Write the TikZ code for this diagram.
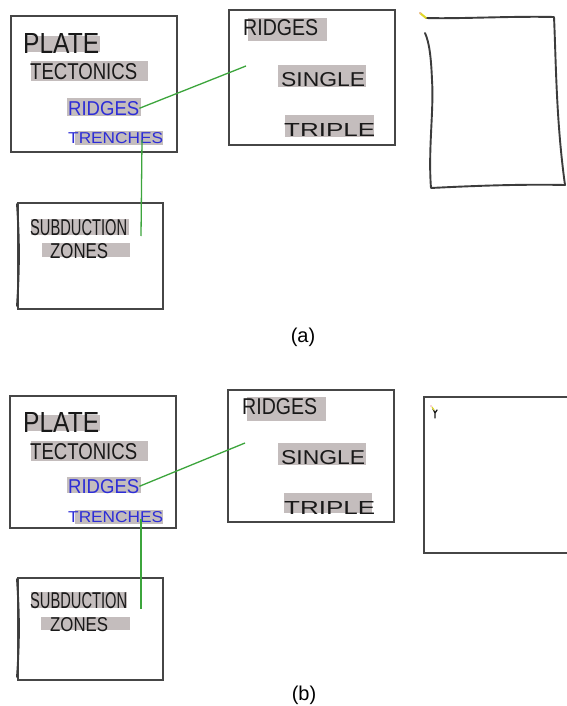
\documentclass[tikz,border=0pt]{standalone}
\usepackage{fontspec}
\setsansfont{Liberation Sans}
\usepackage{graphicx}
\definecolor{boxgray}{RGB}{70,70,70}
\definecolor{hlgray}{RGB}{196,189,189}
\definecolor{inkblue}{RGB}{45,45,215}
\definecolor{inkblack}{RGB}{25,25,25}
\definecolor{lineGreen}{RGB}{60,165,60}
\definecolor{markyellow}{RGB}{225,215,40}
\definecolor{markpink}{RGB}{240,170,180}
\newcommand{\handtxt}[3]{\resizebox{#1pt}{#2pt}{\sffamily #3}}
\tikzset{
  panelbox/.style={draw=boxgray, line width=1.6pt, inner sep=0pt, anchor=north west},
  hl/.style={fill=hlgray, draw=none, inner sep=0pt, anchor=north west},
  txt/.style={inner sep=0pt, anchor=north west, text=inkblack},
  bluetxt/.style={txt, text=inkblue},
  link/.style={draw=lineGreen, line width=1.3pt},
  hand/.style={draw=inkblack!85, line width=1.9pt, line cap=round, line join=round},
  caption/.style={inner sep=0pt, font=\fontsize{20}{24}\selectfont\sffamily}
}
\begin{document}
\begin{tikzpicture}[x=1pt,y=-1pt]
\useasboundingbox[fill=white] (0,0) rectangle (566,706);

% ================= panel (a) =================
\node[panelbox, minimum width=166pt, minimum height=136pt] (plateA) at (10,15) {};
\node[hl, minimum width=73pt, minimum height=16pt] at (27,36) {};
\node[hl, minimum width=117pt, minimum height=20pt] at (31,61) {};
\node[hl, minimum width=74pt, minimum height=18pt] at (67,98) {};
\node[hl, minimum width=88pt, minimum height=14pt] at (75,131) {};
\node[txt] (plateTxtA) at (23,33) {\handtxt{76}{20}{PLATE}};
\node[txt] (tectA) at (30,63) {\handtxt{107}{16}{TECTONICS}};
\node[bluetxt] (ridgesA) at (68,101) {\handtxt{71}{14}{RIDGES}};
\node[bluetxt] (trenchA) at (68,132) {\handtxt{95}{11}{TRENCHES}};

\node[panelbox, minimum width=166pt, minimum height=135pt] (ridgeBoxA) at (228,9) {};
\node[hl, minimum width=79pt, minimum height=23pt] at (248,18) {};
\node[hl, minimum width=88pt, minimum height=22pt] at (278,65) {};
\node[hl, minimum width=89pt, minimum height=22pt] at (285,115) {};
\node[txt] (ridges2A) at (243,19) {\handtxt{75}{16}{RIDGES}};
\node[txt] (singleA) at (281,72) {\handtxt{84}{14}{SINGLE}};
\node[txt] (tripleA) at (284,123) {\handtxt{91}{13}{TRIPLE}};

\node[panelbox, minimum width=145pt, minimum height=106pt] (subA) at (17,202) {};
\draw[hand] (17,204) .. controls (19,235) and (20,260) .. (17,306);
\node[hl, minimum width=98pt, minimum height=16pt] at (31,219) {};
\node[hl, minimum width=88pt, minimum height=14pt] at (42,243) {};
\node[txt] (subTxtA) at (30,219) {\handtxt{97}{16}{SUBDUCTION}};
\node[txt] (zonesA) at (50,243) {\handtxt{58}{15}{ZONES}};

\coordinate (ridgeEndA) at (246,66);
\coordinate (trenchStartA) at (142,140);
\coordinate (trenchEndA) at (141,236);
\draw[link] (ridgesA.east) -- (ridgeEndA);
\draw[link] (trenchStartA) -- (trenchEndA);

% hand-drawn frame (a)
\draw[hand] (426,18) .. controls (460,19) and (510,16) .. (554,17)
  .. controls (556,60) and (556,120) .. (565,185)
  .. controls (520,184) and (470,186) .. (431,188)
  .. controls (428,150) and (434,110) .. (432,80)
  .. controls (431,55) and (429,42) .. (425,33);
\draw[markyellow, line width=2pt, line cap=round] (420,13) -- (426,18);
\fill[markpink] (420,13) circle (1pt);

\node[caption] (capA) at (303,337) {(a)};

% ================= panel (b) =================
\node[panelbox, minimum width=166pt, minimum height=132pt] (plateB) at (9,395) {};
\node[hl, minimum width=73pt, minimum height=16pt] at (27,415) {};
\node[hl, minimum width=117pt, minimum height=20pt] at (31,441) {};
\node[hl, minimum width=74pt, minimum height=16pt] at (67,477) {};
\node[hl, minimum width=88pt, minimum height=14pt] at (75,510) {};
\node[txt] (plateTxtB) at (23,412) {\handtxt{76}{20}{PLATE}};
\node[txt] (tectB) at (30,443) {\handtxt{107}{16}{TECTONICS}};
\node[bluetxt] (ridgesB) at (68,479) {\handtxt{71}{14}{RIDGES}};
\node[bluetxt] (trenchB) at (68,511) {\handtxt{95}{11}{TRENCHES}};

\node[panelbox, minimum width=166pt, minimum height=132pt] (ridgeBoxB) at (227,389) {};
\node[hl, minimum width=79pt, minimum height=24pt] at (247,397) {};
\node[hl, minimum width=88pt, minimum height=22pt] at (278,443) {};
\node[hl, minimum width=88pt, minimum height=20pt] at (284,493) {};
\node[txt] (ridges2B) at (242,398) {\handtxt{75}{16}{RIDGES}};
\node[txt] (singleB) at (281,450) {\handtxt{84}{14}{SINGLE}};
\node[txt] (tripleB) at (284,501) {\handtxt{91}{13}{TRIPLE}};

\node[panelbox, minimum width=145pt, minimum height=102pt] (subB) at (17,577) {};
\draw[hand] (17,579) .. controls (19,610) and (20,635) .. (17,677);
\node[hl, minimum width=96pt, minimum height=16pt] at (31,592) {};
\node[hl, minimum width=89pt, minimum height=13pt] at (41,617) {};
\node[txt] (subTxtB) at (30,592) {\handtxt{97}{16}{SUBDUCTION}};
\node[txt] (zonesB) at (50,617) {\handtxt{58}{14}{ZONES}};

\coordinate (ridgeEndB) at (245,443);
\coordinate (trenchStartB) at (141,519);
\coordinate (trenchEndB) at (141,609);
\draw[link] (ridgesB.east) -- (ridgeEndB);
\draw[link] (trenchStartB) -- (trenchEndB);

% empty frame (b), cut by the right border
\draw[draw=boxgray, line width=1.2pt] (567,397) -- (424,397) -- (424,553) -- (567,553);
% small marker (b)
\draw[inkblack, line width=1.3pt, line cap=round] (433,409) -- (435,413) -- (437,410) (435,413) -- (435,418);
\draw[markyellow, line width=1.2pt, line cap=round] (432,407) -- (434,410);
\fill[markpink] (431,406) circle (0.9pt);

\node[caption] (capB) at (304,695) {(b)};
\end{tikzpicture}
\end{document}
